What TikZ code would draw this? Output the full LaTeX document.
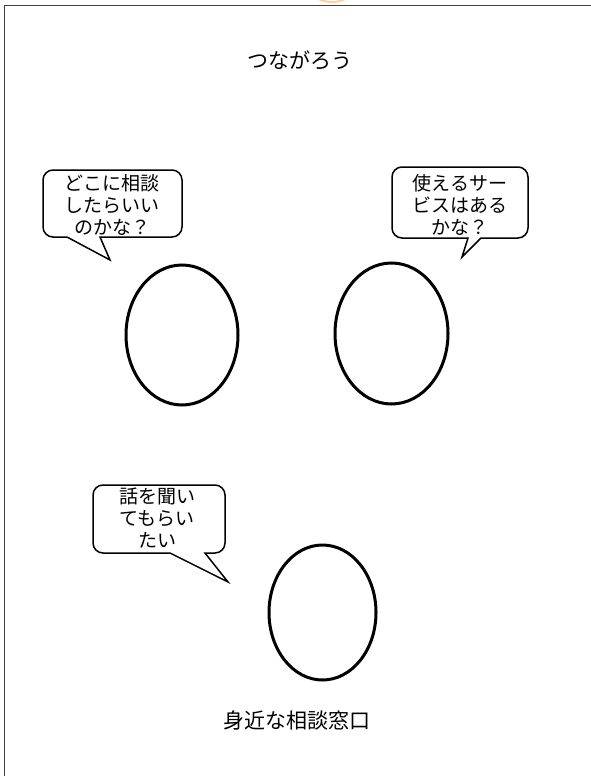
\documentclass[tikz,border=0pt]{standalone}
\usepackage{fontspec}
\newfontfamily\jp{Noto Sans CJK JP}
\usetikzlibrary{shapes.geometric}
\begin{document}
\begin{tikzpicture}[x=1pt,y=-1pt,
  txt/.style={font=\jp\fontsize{19}{22}\selectfont, inner sep=0pt, align=center},
  big/.style={font=\jp\fontsize{21}{24}\selectfont, inner sep=0pt},
  face/.style={ellipse, draw=black, line width=3pt, inner sep=0pt},
  bubble/.style={draw=black, fill=white, line width=1.5pt, line join=miter},
  frame/.style={draw=black!75, line width=1.6pt}]
\useasboundingbox (0,0) rectangle (590,776);
\fill[white] (0,0) rectangle (590,776);
% faint orange mark at the top
\begin{scope}
\clip (0,0) rectangle (590,3);
\draw[orange!35, line width=2pt] (332,-30) circle[radius=32];
\end{scope}
% frame
\coordinate (ftl) at (4.5,5.5);
\coordinate (ftr) at (592,5.5);
\coordinate (fbl) at (4.5,778);
\draw[frame] (ftr) -- (ftl) -- (fbl);
% title
\node[big] (title) at (300,60) {つながろう};
% faces
\node[face, minimum width=112pt, minimum height=140pt] (f1) at (182,335) {};
\node[face, minimum width=113pt, minimum height=141pt] (f2) at (391.5,333.5) {};
\node[face, minimum width=107pt, minimum height=135pt] (f3) at (322.5,612.5) {};
% bubble 1
\draw[bubble] [rounded corners=10pt] (43,170) -- (182,170) -- (182,237) [rounded corners=0pt] -- (100,237) -- (110,260) -- (67,237) [rounded corners=10pt] -- (43,237) -- cycle;
\node[txt] (t1) at (112,205) {どこに相談\\したらいい\\のかな？};
% bubble 2
\draw[bubble] [rounded corners=10pt] (392,167) -- (528,167) -- (528,238) [rounded corners=0pt] -- (481,238) -- (462,257) -- (468,238) [rounded corners=10pt] -- (392,238) -- cycle;
\node[txt] (t2) at (460,205) {使えるサー\\ビスはある\\かな？};
% bubble 3
\draw[bubble] [rounded corners=10pt] (93,485) -- (225,485) -- (225,553) [rounded corners=0pt] -- (205,553) -- (228,582) -- (170,553) [rounded corners=10pt] -- (93,553) -- cycle;
\node[txt] (t3) at (157,518) {話を聞い\\てもらい\\たい};
% bottom label
\node[big] (label) at (297,720) {身近な相談窓口};
\end{tikzpicture}
\end{document}
